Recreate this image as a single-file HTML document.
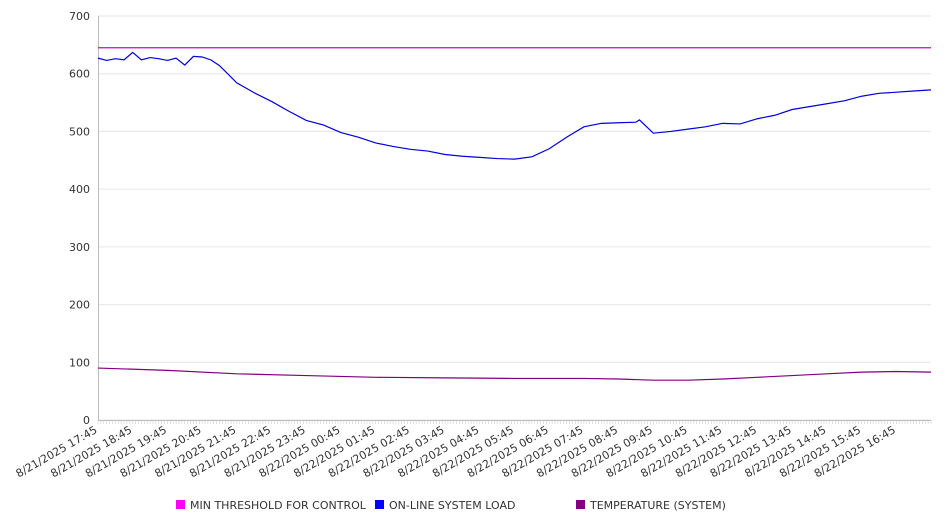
<!DOCTYPE html>
<html><head><meta charset="utf-8"><style>
body{margin:0;background:#fff;font-family:"DejaVu Sans","Liberation Sans",sans-serif;}
svg text{font-family:"DejaVu Sans","Liberation Sans",sans-serif;font-size:11px;fill:#333;}
</style></head><body>
<svg id="chart" width="946" height="526" xmlns="http://www.w3.org/2000/svg">
<g id="grid"></g>
<g id="yaxis"></g>
<g id="xaxis"></g>
<g id="series"></g>
<g id="legend"></g>
</svg>
<script>
const yTicks=[0,100,200,300,400,500,600,700];
const xLabels=["8/21/2025 17:45","8/21/2025 18:45","8/21/2025 19:45","8/21/2025 20:45","8/21/2025 21:45","8/21/2025 22:45","8/21/2025 23:45","8/22/2025 00:45","8/22/2025 01:45","8/22/2025 02:45","8/22/2025 03:45","8/22/2025 04:45","8/22/2025 05:45","8/22/2025 06:45","8/22/2025 07:45","8/22/2025 08:45","8/22/2025 09:45","8/22/2025 10:45","8/22/2025 11:45","8/22/2025 12:45","8/22/2025 13:45","8/22/2025 14:45","8/22/2025 15:45","8/22/2025 16:45"];
const loadHours=[0,0.25,0.5,0.75,1,1.25,1.5,1.75,2,2.25,2.5,2.75,3,3.25,3.5,4,4.5,5,5.5,6,6.5,7,7.5,8,8.5,9,9.5,10,10.5,11,11.5,12,12.5,13,13.5,14,14.5,15,15.5,15.6,16,16.5,17,17.5,18,18.5,19,19.5,20,20.5,21,21.5,22,22.5,23,23.5,24];
const loadValues=[627,623,626,624,637,624,628,626,623,627,615,630,629,624,614,584,567,552,535,519,511,498,490,480,474,469,466,460,457,455,453,452,456,470,490,508,514,515,516,520,497,500,504,508,514,513,522,528,538,543,548,553,561,566,568,570,572];
const tempHours=[0,2,4,6,8,10,12,14,15,16,17,18,19,20,21,22,23,24];
const tempValues=[90,86,80,77,74,73,72,72,71,69,69,71,74,77,80,83,84,83];
const thresholdValue=645;
const L=98,R=931,T=16,B=420,HOURS=24;
const xs=h=>L+(R-L)*h/HOURS;
const ys=v=>B-(B-T)*v/700;
const NS="http://www.w3.org/2000/svg";
function mk(tag,attrs,parent){const e=document.createElementNS(NS,tag);for(const k in attrs)e.setAttribute(k,attrs[k]);parent.appendChild(e);return e;}
const grid=document.getElementById('grid'),ya=document.getElementById('yaxis'),xa=document.getElementById('xaxis'),ser=document.getElementById('series'),leg=document.getElementById('legend');
yTicks.forEach(v=>{
  const g=mk('line',{x1:L,x2:R,y1:ys(v),y2:ys(v),stroke:'#e6e6e6','stroke-width':1},grid);
  
  
  const t=mk('text',{x:L-8,y:ys(v)+4,'text-anchor':'end'},ya);
  t.textContent=v;
  
  
});
mk('line',{x1:L+0.5,x2:L+0.5,y1:T,y2:B,stroke:'#bbb'},ya);
mk('line',{x1:L,x2:R,y1:B+0.5,y2:B+0.5,stroke:'#bbb'},xa);
for(let m=0;m<=HOURS*12;m++){mk('line',{x1:xs(m/12),x2:xs(m/12),y1:B,y2:B+4,stroke:'#ccc','stroke-width':0.6},xa);}
xLabels.forEach((s,i)=>{
  const x=xs(i),y=B+12;
  const t=mk('text',{x:x,y:y,'text-anchor':'end',transform:`rotate(-30 ${x} ${y})`},xa);
  t.textContent=s;
  
  
});
const th=mk('line',{x1:L,x2:R,y1:ys(thresholdValue),y2:ys(thresholdValue),stroke:'#d000d0','stroke-width':1.2},ser);


const lp=mk('polyline',{points:loadHours.map((h,i)=>xs(h)+','+ys(loadValues[i])).join(' '),fill:'none',stroke:'#0000dd','stroke-width':1.2},ser);


const tp=mk('polyline',{points:tempHours.map((h,i)=>xs(h)+','+ys(tempValues[i])).join(' '),fill:'none',stroke:'#800080','stroke-width':1.2},ser);


const legItems=[["MIN THRESHOLD FOR CONTROL","#ff00ff",176],["ON-LINE SYSTEM LOAD","#0000ff",375],["TEMPERATURE (SYSTEM)","#800080",576]];
legItems.forEach(([lab,c,x])=>{
  const g=mk('g',{},leg);
  
  
  mk('rect',{x:x,y:500,width:9,height:9,fill:c},g);
  const t=mk('text',{x:x+14,y:509},g);t.textContent=lab;
});
</script>
</body></html>
